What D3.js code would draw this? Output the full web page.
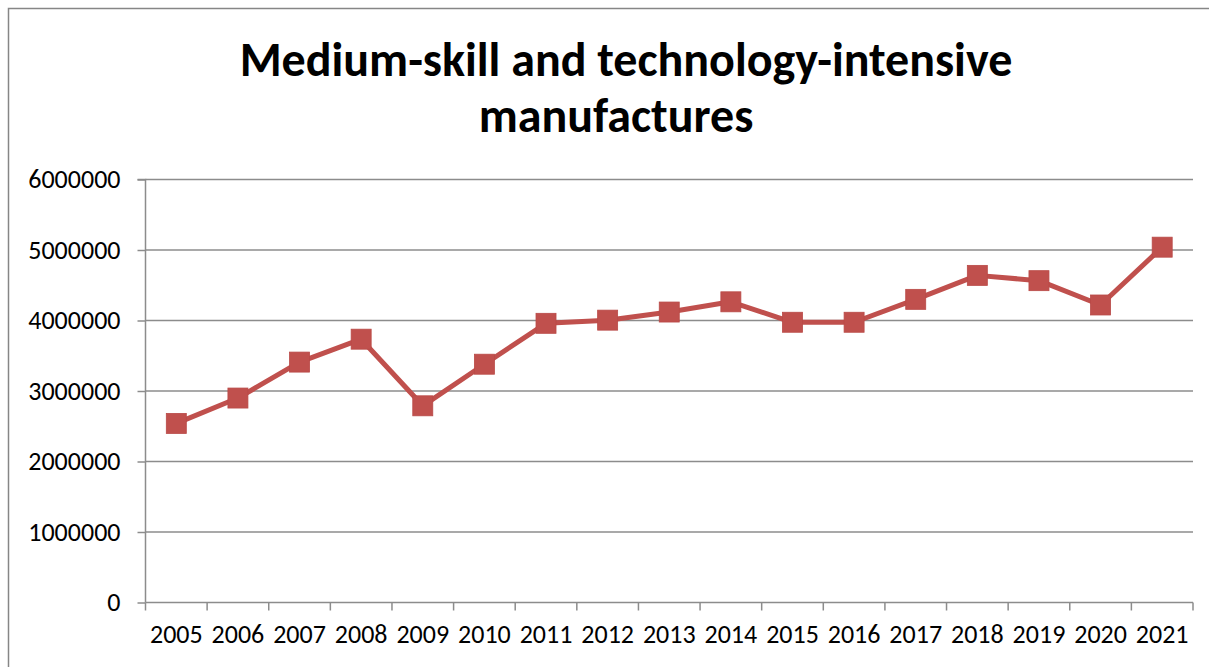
<!DOCTYPE html>
<html><head><meta charset="utf-8">
<script src="https://cdn.jsdelivr.net/npm/d3@7"></script>
<style>
html,body{margin:0;padding:0;background:#fff;}
svg{display:block;}
</style></head>
<body>
<svg id="chart" width="1209" height="667"></svg>
<script>
const titleLines = ["Medium-skill and technology-intensive", "manufactures"];
const years = ["2005","2006","2007","2008","2009","2010","2011","2012","2013","2014","2015","2016","2017","2018","2019","2020","2021"];
const values = [2540000,2900000,3410000,3735000,2790000,3380000,3960000,4005000,4120000,4265000,3975000,3975000,4300000,4640000,4565000,4220000,5040000];
const yTicks = [0,1000000,2000000,3000000,4000000,5000000,6000000];

const svg = d3.select("#chart");
const font = "Calibri, Carlito, 'Open Sans', sans-serif";

// outer frame
svg.append("rect").attr("x",8.5).attr("y",8.5).attr("width",1220).attr("height",700)
  .attr("fill","none").attr("stroke","#868686").attr("stroke-width",1.5);

const m = {left:145.5, right:1193, top:179.5, bottom:602.5};
const x = d3.scaleBand().domain(years).range([m.left, m.right]);
const y = d3.scaleLinear().domain([0,6000000]).range([m.bottom, m.top]);

// title
const t = svg.append("text").attr("text-anchor","middle")
  .attr("font-family",font).attr("font-weight","bold").attr("font-size",48).attr("fill","#000");
titleLines.forEach((l,i)=>t.append("tspan").attr("x",i===0?626:616).attr("y",i===0?76:132).text(l));

// gridlines
svg.append("g").selectAll("line").data(yTicks.filter(d=>d>0)).join("line")
  .attr("x1",m.left).attr("x2",m.right).attr("y1",d=>y(d)).attr("y2",d=>y(d))
  .attr("stroke","#8c8c8c").attr("stroke-width",1.5);

// y axis
const ya = svg.append("g").attr("transform",`translate(${m.left},0)`)
  .call(d3.axisLeft(y).tickValues(yTicks).tickFormat(d3.format("d")).tickSize(8).tickPadding(17));
ya.select(".domain").attr("stroke","#8c8c8c").attr("stroke-width",1.5).attr("d",`M-8,${m.top}H0V${m.bottom}`);
ya.selectAll(".tick line").attr("stroke","#8c8c8c").attr("stroke-width",1.5);
ya.selectAll(".tick text").attr("font-family",font).attr("font-size",26).attr("fill","#000");

// x axis
const xa = svg.append("g").attr("transform",`translate(0,${m.bottom})`)
  .call(d3.axisBottom(x).tickSize(0).tickPadding(22));
xa.select(".domain").attr("stroke","#8c8c8c").attr("stroke-width",1.5).attr("d",`M${m.left},0H${m.right}`);
xa.selectAll(".tick text").attr("font-family",font).attr("font-size",26).attr("fill","#000");
const bounds = years.map(yr=>x(yr)).concat([m.right]);
svg.append("g").selectAll("line").data(bounds).join("line")
  .attr("x1",d=>d).attr("x2",d=>d).attr("y1",m.bottom).attr("y2",m.bottom+8)
  .attr("stroke","#8c8c8c").attr("stroke-width",1.5);

// line
const cx = d=>x(d)+x.bandwidth()/2;
const pts = years.map((yr,i)=>[cx(yr), y(values[i])]);
svg.append("path").attr("d",d3.line()(pts)).attr("fill","none")
  .attr("stroke","#C0504D").attr("stroke-width",5).attr("stroke-linejoin","round");
const s = 20;
svg.append("g").selectAll("rect").data(pts).join("rect")
  .attr("x",d=>d[0]-s/2).attr("y",d=>d[1]-s/2).attr("width",s).attr("height",s)
  .attr("fill","#C0504D").attr("stroke","#B94A47").attr("stroke-width",0.8);
</script>
</body></html>
